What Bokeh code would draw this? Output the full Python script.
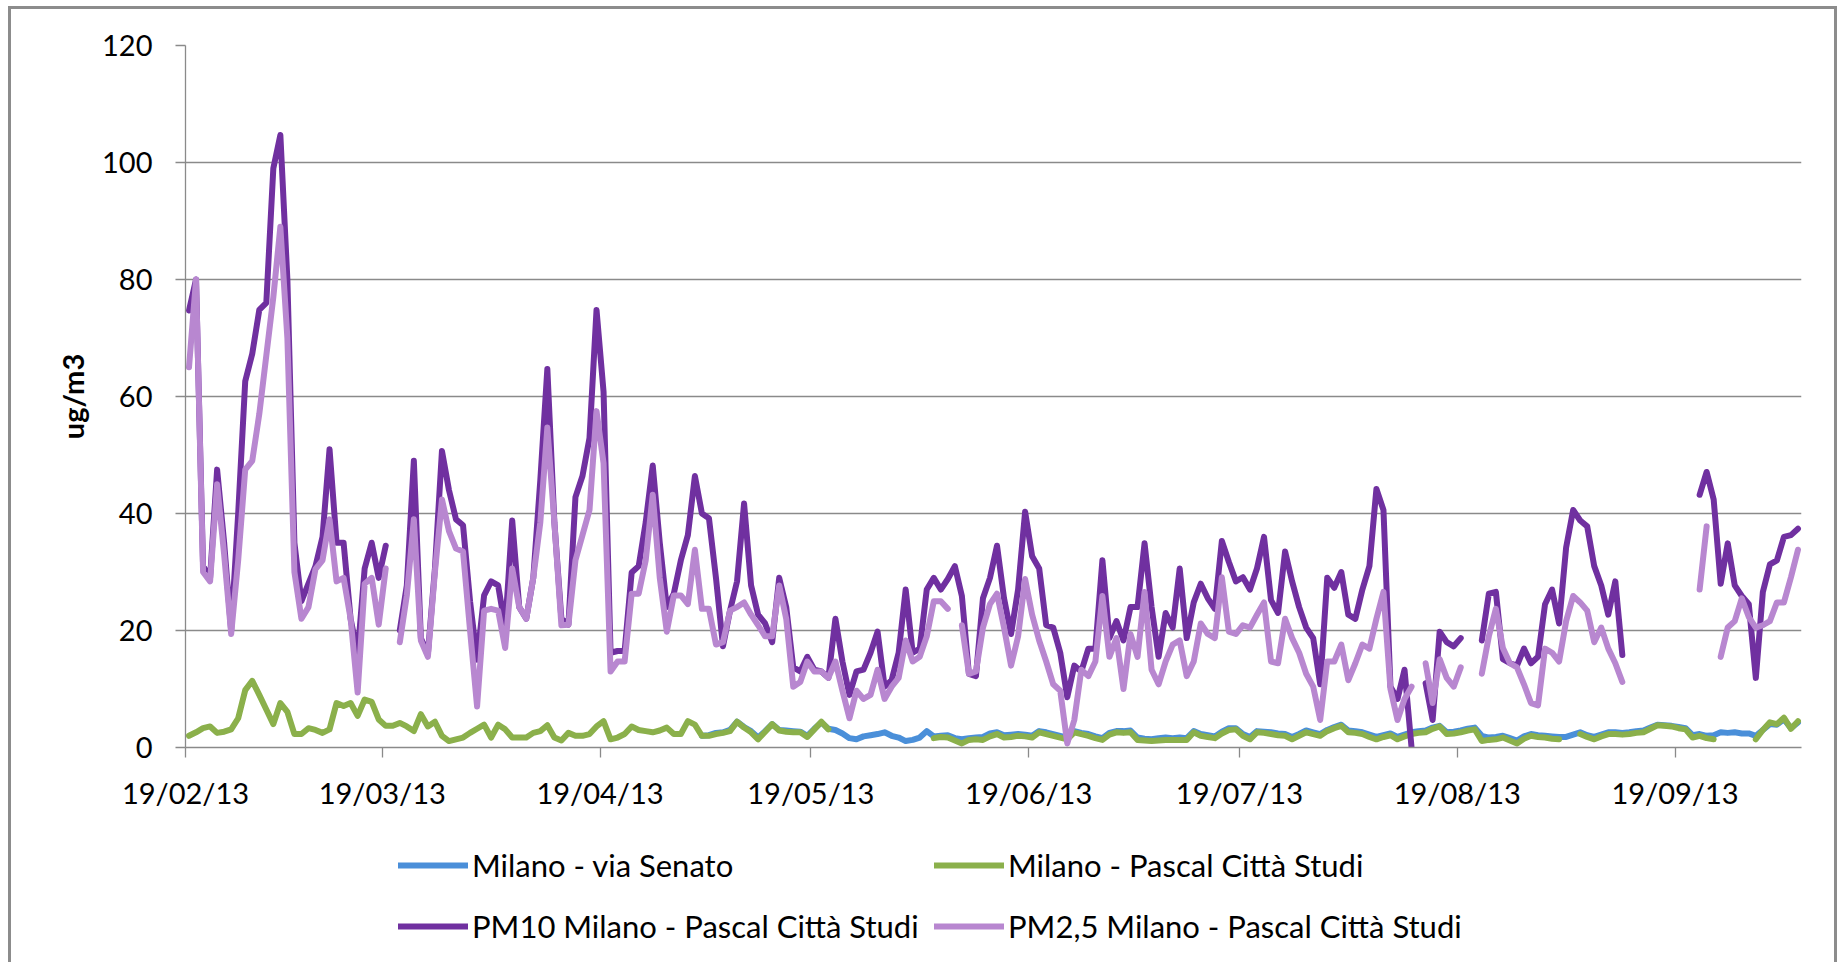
import pandas as pd
from bokeh.plotting import figure
from bokeh.layouts import column
from bokeh.models import (ColumnDataSource, Legend, LegendItem, FixedTicker,
                          DatetimeTickFormatter, Range1d)
from bokeh.embed import file_html
from bokeh.resources import INLINE

nan = float("nan")

# ---------------- data ----------------
first_day = "2013-02-19"
last_day = "2013-10-06"
dates = pd.date_range(first_day, last_day, freq="D")

pm10 = [
    74.7, 80, 31, 29, 47.5, 35, 20, 40, 62.6, 67.3,
    74.8, 76, 99, 104.7, 80, 35, 25, 28, 31, 36,
    51, 35, 35, 22, 16, 30.6, 35, 29, 34.5, nan,
    20, 27.7, 49, 18.7, 16, 30.6, 50.7, 44, 39, 38,
    25, 15, 26, 28.4, 27.7, 20.5, 38.8, 24, 22, 29,
    45.7, 64.7, 38.5, 22, 21, 42.8, 46.4, 52.9, 74.8, 60.8,
    16.2, 16.5, 16.5, 29.9, 31, 38.5, 48.2, 35, 24, 26.3,
    32, 36.3, 46.4, 40, 39.2, 29, 17.3, 23.4, 28.4, 41.7,
    27.7, 22.7, 21.2, 18, 29, 24, 13.7, 13, 15.5, 13.3,
    13, 11.9, 22, 14.7, 9, 13, 13.3, 16.2, 19.8, 10.4,
    11.5, 16.2, 27, 16.2, 16.9, 27, 29, 27, 28.8, 31,
    25.9, 12.6, 12.2, 25.5, 29, 34.5, 25.5, 19.4, 27, 40.3,
    32.7, 30.6, 20.9, 20.5, 16.2, 8.6, 14, 13, 16.9, 16.9,
    32, 18.7, 21.6, 18.3, 24, 24, 34.9, 24, 15.5, 23,
    20.5, 30.6, 18.7, 24.8, 28, 25.5, 23.7, 35.3, 31.7, 28.4,
    29.1, 27, 30.6, 36, 25.2, 23, 33.5, 28.4, 24, 20.5,
    18.7, 10.8, 29, 27.3, 30, 22.7, 22, 27, 31, 44.2,
    40.6, 10.4, 8.3, 13.3, 0, nan, 11, 4.7, 19.8, 18,
    17.3, 18.7, nan, nan, 18.3, 26.3, 26.6, 15.1, 14.4, 14,
    16.9, 14.4, 15.5, 24.5, 27, 21.2, 34.2, 40.6, 38.8, 37.8,
    31, 27.7, 22.7, 28.4, 15.8, nan, nan, nan, nan, nan,
    nan, nan, nan, nan, nan, 43.2, 47.1, 42.4, 28, 34.9,
    27.7, 25.9, 24.5, 11.9, 26.6, 31.3, 32, 36, 36.3, 37.4,
]

pm25 = [
    65, 80, 30, 28.4, 45, 33, 19.4, 32, 47.5, 49,
    57, 67, 77, 89, 70, 30, 22, 24, 30.5, 32,
    39, 28.4, 29, 22, 9.4, 28, 29, 21, 30.6, nan,
    18, 26, 39, 18.3, 15.5, 30, 42.4, 37, 34, 33.5,
    20, 7, 23.4, 23.7, 23.4, 17, 30.6, 24, 22, 29,
    38.5, 54.7, 38.5, 20.9, 21, 32, 36.3, 40.6, 57.5, 48.6,
    13, 14.7, 14.7, 26.3, 26.3, 32, 43.2, 29, 19.8, 26,
    26, 24.5, 33.8, 23.7, 23.7, 17.6, 18, 23.4, 24, 24.8,
    22.7, 20.9, 19, 19, 27.7, 22, 10.4, 11.2, 14.7, 13,
    13, 11.9, 14.7, 9.7, 5, 9.7, 8.3, 9, 13.3, 8.3,
    10.4, 11.9, 18.3, 14.7, 15.5, 19, 25, 25, 23.7, nan,
    20.9, 12.6, 13, 20.5, 24.5, 26.3, 20.5, 14, 19, 28.8,
    22.7, 18.3, 14.7, 10.8, 9.7, 0.7, 4.7, 13.3, 12.2, 14.7,
    25.9, 15.5, 18.7, 10, 19.4, 15.5, 26.6, 13.3, 10.8, 14.7,
    17.6, 18.3, 12.2, 14.7, 21.2, 19.4, 18.7, 29.1, 19.8, 19.4,
    20.9, 20.5, 22.7, 24.8, 14.7, 14.4, 22, 18.7, 16.2, 12.6,
    10.4, 4.7, 14.7, 14.7, 17.6, 11.5, 14.4, 17.6, 16.9, 22,
    26.6, 10, 4.7, 8.3, 10.4, nan, 14.4, 7.6, 15.1, 11.9,
    10.4, 13.7, nan, nan, 12.6, 19, 23.7, 17, 14.4, 13.7,
    10.8, 7.6, 7.2, 16.9, 16.2, 14.7, 21.6, 25.9, 24.8, 23.4,
    18, 20.5, 16.9, 14.4, 11.2, nan, nan, nan, nan, nan,
    nan, nan, nan, nan, nan, 27, 37.8, nan, 15.5, 20.5,
    21.6, 25.5, 22.3, 20.5, 20.9, 21.6, 24.8, 24.8, 29.1, 33.8,
]

pascal = [
    2.0, 2.6, 3.3, 3.6, 2.5, 2.7, 3.1, 5.0, 9.8, 11.4,
    9.0, 6.5, 4.0, 7.6, 6.1, 2.3, 2.3, 3.3, 3.0, 2.5,
    3.1, 7.6, 7.1, 7.6, 5.4, 8.2, 7.8, 4.8, 3.7, 3.7,
    4.2, 3.6, 2.8, 5.7, 3.6, 4.4, 2.0, 1.1, 1.4, 1.7,
    2.5, 3.2, 3.9, 1.7, 3.9, 3.1, 1.7, 1.7, 1.7, 2.5,
    2.8, 3.8, 1.7, 1.2, 2.5, 2.0, 2.0, 2.3, 3.6, 4.5,
    1.4, 1.7, 2.3, 3.6, 3.0, 2.8, 2.6, 2.9, 3.4, 2.3,
    2.3, 4.5, 3.9, 2.0, 2.0, 2.3, 2.5, 2.8, 4.4, 3.4,
    2.6, 1.4, 2.7, 4.0, 2.9, 2.7, 2.6, 2.6, 1.8, 3.1,
    4.4, 3.1, nan, nan, nan, nan, nan, nan, nan, nan,
    nan, nan, nan, nan, nan, nan, 1.6, 1.8, 1.7, 1.2,
    0.7, 1.3, 1.4, 1.3, 1.9, 2.3, 1.7, 1.8, 2.0, 1.9,
    1.7, 2.6, 2.3, 2.0, 1.7, 1.4, 2.6, 2.3, 2.0, 1.6,
    1.3, 2.2, 2.6, 2.5, 2.6, 1.3, 1.2, 1.1, 1.2, 1.3,
    1.3, 1.3, 1.3, 2.6, 2.0, 1.8, 1.6, 2.4, 3.0, 3.1,
    2.0, 1.4, 2.6, 2.5, 2.3, 2.1, 2.0, 1.4, 2.0, 2.6,
    2.3, 2.0, 2.8, 3.3, 3.7, 2.6, 2.5, 2.3, 1.8, 1.4,
    1.8, 2.1, 1.4, 1.9, 2.3, 2.5, 2.6, 3.2, 3.6, 2.3,
    2.4, 2.6, 2.9, 3.1, 1.1, 1.3, 1.4, 1.7, 1.2, 0.7,
    1.5, 2.0, 1.8, 1.7, 1.5, 1.4, nan, nan, 2.3, 1.8,
    1.4, 1.9, 2.3, 2.3, 2.2, 2.3, 2.5, 2.6, 3.2, 3.8,
    3.7, 3.6, 3.3, 3.1, 1.7, 2.0, 1.6, 1.4, nan, nan,
    nan, nan, nan, 1.4, 3.0, 4.3, 4.0, 5.1, 3.2, 4.5,
]

senato = [nan] * 73 + [
    2.0, 2.1, 2.5, 2.6, 3.0, 4.4, 3.5,
    2.8, 1.7, 2.8, 4.0, 3.0, 2.9, 2.8, 2.7, 2.0, 3.2,
    4.3, 3.2, 3.0, 2.4, 1.6, 1.4, 1.9, 2.1, 2.3, 2.6,
    2.0, 1.7, 1.1, 1.3, 1.7, 2.8, 1.9, 2.0, 2.1, 1.6,
    1.4, 1.6, 1.7, 1.8, 2.4, 2.6, 2.1, 2.2, 2.3, 2.2,
    2.0, 2.8, 2.6, 2.3, 2.0, 1.7, 2.8, 2.5, 2.3, 1.9,
    1.6, 2.5, 2.8, 2.8, 2.9, 1.7, 1.5, 1.4, 1.6, 1.7,
    1.6, 1.7, 1.6, 2.8, 2.3, 2.1, 1.9, 2.7, 3.3, 3.3,
    2.3, 1.8, 2.8, 2.7, 2.6, 2.4, 2.3, 1.8, 2.3, 2.9,
    2.6, 2.3, 3.0, 3.5, 3.9, 2.9, 2.8, 2.6, 2.2, 1.8,
    2.1, 2.4, 1.8, 2.2, 2.6, 2.8, 2.9, 3.4, 3.7, 2.6,
    2.7, 2.9, 3.2, 3.4, 2.0, 1.7, 1.8, 2.0, 1.6, 1.2,
    1.9, 2.3, 2.1, 2.0, 1.9, 1.8, 1.8, 2.2, 2.6, 2.1,
    1.8, 2.2, 2.6, 2.6, 2.5, 2.6, 2.8, 2.9, 3.4, 3.9,
    3.8, 3.7, 3.5, 3.3, 2.1, 2.3, 2.0, 2.1, 2.6, 2.5,
    2.6, 2.4, 2.4, 2.0, 3.0, 4.0, 3.9, 4.8, 3.3, 4.3,
]

series_names = [
    "Milano - via Senato",
    "Milano - Pascal Città Studi",
    "PM10 Milano - Pascal Città Studi",
    "PM2,5 Milano - Pascal Città Studi",
]
series_colors = ["#4A8FD9", "#8BB04B", "#7030A0", "#B887D0"]

y_ticks = [0, 20, 40, 60, 80, 100, 120]
tick_dates = ["2013-02-19", "2013-03-19", "2013-04-19", "2013-05-19",
              "2013-06-19", "2013-07-19", "2013-08-19", "2013-09-19"]
tick_labels = ["19/02/13", "19/03/13", "19/04/13", "19/05/13",
               "19/06/13", "19/07/13", "19/08/13", "19/09/13"]


def fit(values, n):
    values = list(values)[:n]
    return values + [nan] * (n - len(values))


n = len(dates)
x_pos = dates + pd.Timedelta(hours=12)   # points centred in each day slot
source = ColumnDataSource(dict(
    x=x_pos,
    senato=fit(senato, n),
    pascal=fit(pascal, n),
    pm10=fit(pm10, n),
    pm25=fit(pm25, n),
))

# ---------------- layout constants ----------------
FONT = "Lato"
FSIZE = "29px"
GRID = "#8a8a8a"
LW = 6
W = 1837
H_MAIN = 830
H_LEG = 132
FRAME_LEFT = 185

# ---------------- main chart ----------------
p = figure(width=W, height=H_MAIN, x_axis_type="datetime",
           x_range=Range1d(pd.Timestamp(first_day), pd.Timestamp("2013-10-07")),
           y_range=Range1d(0, 120),
           output_backend="svg", toolbar_location=None,
           min_border_left=FRAME_LEFT, min_border_right=36,
           min_border_top=45, min_border_bottom=H_MAIN - 747)

p.background_fill_color = "white"
p.border_fill_color = None
p.outline_line_color = None

for key, color in zip(["senato", "pascal", "pm10", "pm25"], series_colors):
    p.line("x", key, source=source, line_color=color, line_width=LW,
           line_join="round", line_cap="round")

p.xgrid.visible = False
p.ygrid.ticker = FixedTicker(ticks=y_ticks)
p.ygrid.grid_line_color = GRID
p.ygrid.grid_line_width = 1.3

ya = p.yaxis[0]
ya.ticker = FixedTicker(ticks=y_ticks)
ya.axis_line_color = GRID
ya.axis_line_width = 1.3
ya.major_tick_line_color = GRID
ya.major_tick_line_width = 1.3
ya.major_tick_out = 10
ya.major_tick_in = 0
ya.minor_tick_line_color = None
ya.major_label_text_font = FONT
ya.major_label_text_font_size = FSIZE
ya.major_label_text_color = "black"
ya.major_label_standoff = 23
ya.axis_label = "ug/m3"
ya.axis_label_text_font = FONT
ya.axis_label_text_font_style = "bold"
ya.axis_label_text_font_size = FSIZE
ya.axis_label_text_color = "black"
ya.axis_label_standoff = 9

tick_ms = [int(pd.Timestamp(d).value // 10**6) for d in tick_dates]
xa = p.xaxis[0]
xa.ticker = FixedTicker(ticks=tick_ms)
fmt = "%d/%m/%y"
xa.formatter = DatetimeTickFormatter(
    microseconds=fmt, milliseconds=fmt, seconds=fmt, minsec=fmt, minutes=fmt,
    hourmin=fmt, hours=fmt, days=fmt, months=fmt, years=fmt)
xa.major_label_overrides = {ms: lab for ms, lab in zip(tick_ms, tick_labels)}
xa.axis_line_color = GRID
xa.axis_line_width = 1.3
xa.major_tick_line_color = GRID
xa.major_tick_line_width = 1.3
xa.major_tick_out = 10
xa.major_tick_in = 0
xa.minor_tick_line_color = None
xa.major_label_text_font = FONT
xa.major_label_text_font_size = FSIZE
xa.major_label_text_color = "black"
xa.major_label_standoff = 17

# ---------------- legend strip ----------------
q = figure(width=W, height=H_LEG, x_range=Range1d(0, 1), y_range=Range1d(0, 1),
           x_axis_location=None, y_axis_location=None,
           output_backend="svg", toolbar_location=None,
           min_border=0)
q.grid.visible = False
q.outline_line_color = None
q.background_fill_color = None
q.border_fill_color = None

# swatch renderers sit outside the strip's visible range; only their legend glyphs show
swatches = [q.line([-5, -4], [-5, -4], line_color=c, line_width=LW, line_cap="round")
            for c in series_colors]

# bottom-left corner of each legend entry (page x, px above strip bottom)
legend_pos = [(398, 78), (934, 78), (398, 17), (934, 17)]
for name, r, (px, py) in zip(series_names, swatches, legend_pos):
    lg = Legend(items=[LegendItem(label=name, renderers=[r])],
                location=(px - FRAME_LEFT, py),
                orientation="horizontal", padding=0, margin=0, spacing=0,
                border_line_alpha=0, background_fill_alpha=0,
                glyph_width=70, glyph_height=38, label_height=38,
                label_standoff=4, label_text_font=FONT,
                label_text_font_size="31px", label_text_color="black")
    q.add_layout(lg, "center")

frame_css = ("inset 8px 0 0 0 #ffffff, inset 0 6px 0 0 #ffffff, "
             "inset 11px 0 0 0 #8c8c8c, inset 0 9px 0 0 #8c8c8c, "
             "inset -3px 0 0 0 #8c8c8c")
layout = column(p, q, spacing=0, styles={"box-shadow": frame_css})

open("out.html", "w").write(file_html(layout, INLINE))
